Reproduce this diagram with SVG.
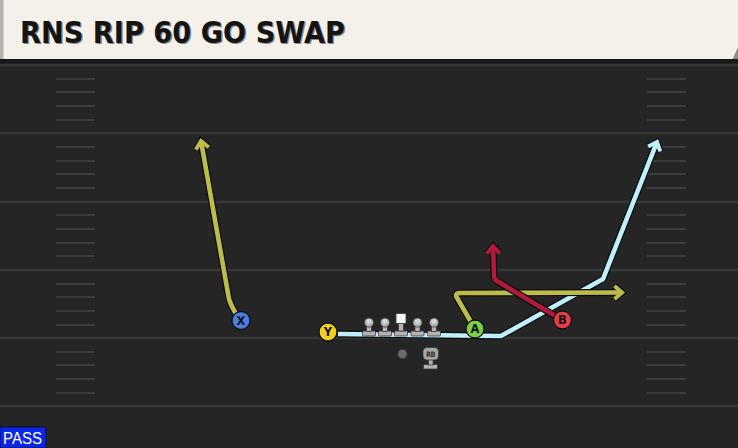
<svg xmlns="http://www.w3.org/2000/svg" width="738" height="448" viewBox="0 0 738 448">
<style>
.yl{stroke:#383838;stroke-width:2.5}
.hm{stroke:#3b3b3b;stroke-width:2}
.out{fill:none;stroke:#0c0c0c;stroke-width:7;stroke-linejoin:round;stroke-linecap:butt}
.rt{fill:none;stroke-width:4.6;stroke-linejoin:round;stroke-linecap:butt}
.yel{stroke:#bcbc4c}
.blu{stroke:#bfeffa}
.red{stroke:#b01a3c}
.pc{stroke:#111;stroke-width:1.3}
.lbl{font-family:"DejaVu Sans","Liberation Sans",sans-serif;font-weight:bold;font-size:11.5px;fill:#111;text-anchor:middle}
.ol{fill:#b3b3b3;stroke:#3a3a3a;stroke-width:0.8}
.ttl{font-family:"Liberation Sans Narrow","DejaVu Sans Condensed","DejaVu Sans",sans-serif;font-stretch:condensed;font-weight:bold;font-size:30px}
</style>
<defs>
<marker id="mo" markerUnits="userSpaceOnUse" markerWidth="30" markerHeight="30" refX="0" refY="0" viewBox="-15 -15 30 30" orient="auto" overflow="visible">
<path d="M-7.5,-6.5 L0,0 L-7.5,6.5" fill="none" stroke="#0c0c0c" stroke-width="6.5" stroke-linejoin="miter"/>
</marker>
<marker id="my" markerUnits="userSpaceOnUse" markerWidth="30" markerHeight="30" refX="0" refY="0" viewBox="-15 -15 30 30" orient="auto" overflow="visible">
<path d="M-7.5,-6.5 L0,0 L-7.5,6.5" fill="none" stroke="#bcbc4c" stroke-width="4" stroke-linejoin="miter"/>
</marker>
<marker id="mb" markerUnits="userSpaceOnUse" markerWidth="30" markerHeight="30" refX="0" refY="0" viewBox="-15 -15 30 30" orient="auto" overflow="visible">
<path d="M-7.5,-6.5 L0,0 L-7.5,6.5" fill="none" stroke="#bfeffa" stroke-width="4" stroke-linejoin="miter"/>
</marker>
<marker id="mr" markerUnits="userSpaceOnUse" markerWidth="30" markerHeight="30" refX="0" refY="0" viewBox="-15 -15 30 30" orient="auto" overflow="visible">
<path d="M-7.5,-6.5 L0,0 L-7.5,6.5" fill="none" stroke="#b01a3c" stroke-width="4" stroke-linejoin="miter"/>
</marker>
<g id="lineman">
<rect class="ol" x="-6.5" y="-5" width="13" height="5" rx="1"/>
<rect class="ol" x="-2.5" y="-13" width="5" height="8.5"/>
<circle class="ol" cx="0" cy="-13.5" r="4.6"/>
<circle cx="0" cy="-14.5" r="2.5" fill="#d4d4d4"/>
</g>
</defs>

<!-- field -->
<rect x="0" y="0" width="738" height="448" fill="#252525"/>
<rect x="0" y="59" width="738" height="5" fill="#181818"/>
<g id="field">
<line class="yl" x1="0" y1="65" x2="738" y2="65"/>
<line class="yl" x1="0" y1="133" x2="738" y2="133"/>
<line class="yl" x1="0" y1="202" x2="738" y2="202"/>
<line class="yl" x1="0" y1="270" x2="738" y2="270"/>
<line class="yl" x1="0" y1="338" x2="738" y2="338"/>
<line class="yl" x1="0" y1="406" x2="738" y2="406"/>
<path class="hm" d="M56,79H95M56,92H95M56,106H95M56,120H95M56,147H95M56,161H95M56,174H95M56,188H95M56,215H95M56,229H95M56,243H95M56,256H95M56,284H95M56,297H95M56,311H95M56,325H95M56,352H95M56,365H95M56,379H95M56,393H95"/>
<path class="hm" d="M647,79H686M647,92H686M647,106H686M647,120H686M647,147H686M647,161H686M647,174H686M647,188H686M647,215H686M647,229H686M647,243H686M647,256H686M647,284H686M647,297H686M647,311H686M647,325H686M647,352H686M647,365H686M647,379H686M647,393H686"/>
</g>

<!-- header -->
<g id="header">
<polygon points="0,0 738,0 738,48 733,59 0,59" fill="#f4f1ea"/>
<polygon points="738,48 738,59 733,59" fill="#8c8c8c"/>
<rect x="0" y="0" width="3.5" height="59" fill="#b4b2ac"/>
<text class="ttl" x="21.3" y="44" textLength="325" lengthAdjust="spacingAndGlyphs" fill="#8a8a8a">RNS RIP 60 GO SWAP</text>
<text class="ttl" x="20" y="42.5" textLength="325" lengthAdjust="spacingAndGlyphs" fill="#141414">RNS RIP 60 GO SWAP</text>
</g>

<!-- connectors -->
<g id="connectors">
<path class="out" d="M241,321 Q232,309 229,299 L201,141" marker-end="url(#mo)"/>
<path class="rt yel" d="M241,321 Q232,309 229,299 L201,141" marker-end="url(#my)"/>
<path class="out" d="M338,334 L501,336 L603,279 L657,142" marker-end="url(#mo)"/>
<path class="rt blu" d="M338,334 L501,336 L603,279 L657,142" marker-end="url(#mb)"/>
<path class="out" d="M475,329 L456,296 Q456,293 460,293 L622,292.5" marker-end="url(#mo)"/>
<path class="rt yel" d="M475,329 L456,296 Q456,293 460,293 L622,292.5" marker-end="url(#my)"/>
<path class="out" d="M562,320 L497,281 Q494,279 494,276 L493,246" marker-end="url(#mo)"/>
<path class="rt red" d="M562,320 L497,281 Q494,279 494,276 L493,246" marker-end="url(#mr)"/>
</g>

<!-- offensive line -->
<g id="lt"><use href="#lineman" x="369" y="336"/></g>
<g id="lg"><use href="#lineman" x="385" y="336"/></g>
<g id="c">
<rect class="ol" x="394.5" y="331" width="13" height="5" rx="1"/>
<rect class="ol" x="398.5" y="323" width="5" height="8"/>
<rect x="396" y="313.5" width="10" height="10" fill="#f6f6f6" stroke="#3a3a3a" stroke-width="0.8"/>
</g>
<g id="rg"><use href="#lineman" x="417.5" y="336"/></g>
<g id="rt"><use href="#lineman" x="434" y="336"/></g>

<g id="qb"><circle cx="402.5" cy="354" r="4.6" fill="#6b6b6b" stroke="#3e3e3e" stroke-width="1"/></g>
<g id="rb">
<rect class="ol" x="423.5" y="364.5" width="14" height="4.5" rx="1"/>
<rect class="ol" x="428.5" y="359" width="4.5" height="6"/>
<rect x="423" y="347.5" width="15.5" height="12.5" rx="4" fill="#a8a8a8" stroke="#3a3a3a" stroke-width="0.8"/>
<text x="430.7" y="357" font-family="'DejaVu Sans Mono','Liberation Mono',monospace" font-weight="bold" font-size="7.5" fill="#222" text-anchor="middle">RB</text>
</g>

<!-- skill players -->
<g id="X"><circle class="pc" cx="241" cy="320.5" r="9" fill="#4a7ee2"/><text class="lbl" x="241" y="324.7">X</text></g>
<g id="Y"><circle class="pc" cx="328" cy="332" r="9" fill="#f3cf1e"/><text class="lbl" x="328" y="336.2">Y</text></g>
<g id="A"><circle class="pc" cx="475" cy="329" r="9" fill="#7ccf48"/><text class="lbl" x="475" y="333.2">A</text></g>
<g id="B"><circle class="pc" cx="562.5" cy="320" r="9" fill="#e63c48"/><text class="lbl" x="562.5" y="324.2">B</text></g>

<!-- pass tag -->
<g id="pass">
<rect x="0" y="427" width="46" height="21" fill="#0a26e6" stroke="#0d0d2a" stroke-width="1"/>
<text x="3" y="444" font-family="'Liberation Sans','DejaVu Sans',sans-serif" font-size="16" fill="#ffffff" textLength="39" lengthAdjust="spacingAndGlyphs">PASS</text>
</g>
</svg>
